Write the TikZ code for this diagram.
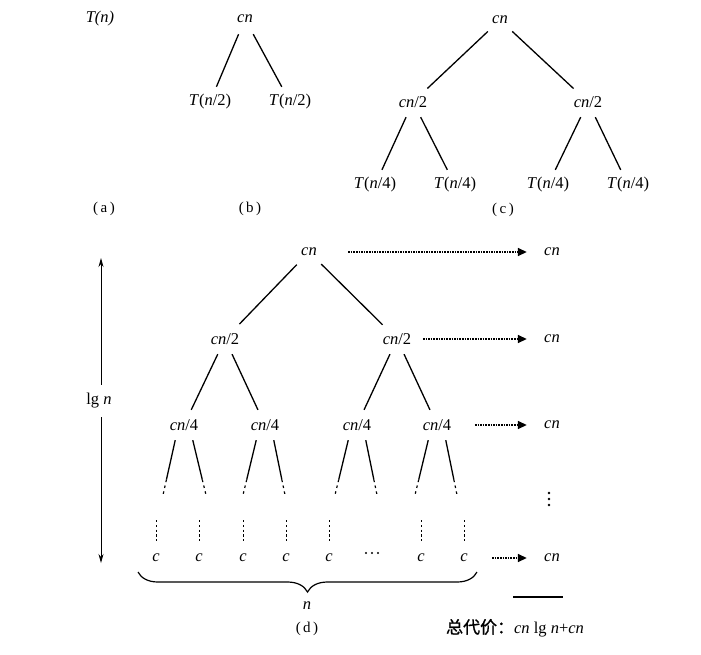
\documentclass[tikz,border=0pt]{standalone}
\usepackage{fontspec}
\setmainfont{Liberation Serif}
\newfontfamily\cjkfont[FakeBold=1]{Noto Sans CJK SC}
\usetikzlibrary{arrows.meta,calc,decorations.pathreplacing}
\newcommand\fsz{\fontsize{16.5}{18}\selectfont}
\newcommand\capsz{\fontsize{15}{17}\selectfont}
\begin{document}
\begin{tikzpicture}[x=1pt,y=-1pt,
  lab/.style={font=\fsz, inner sep=0pt, minimum height=30pt, minimum width=24pt},
  tline/.style={line width=1.3pt},
  stubdash/.style={line width=1.2pt, dash pattern=on 2.5pt off 3.5pt},
  leafdash/.style={line width=1pt, dash pattern=on 2.2pt off 2.6pt},
  cost/.style={line width=1.6pt, densely dotted, -{Triangle[length=9pt,width=8pt]}},
  lgarrow/.style={line width=0.9pt, -{Stealth[length=9pt,width=5pt]}},
  capt/.style={font=\capsz, inner sep=1pt}
]
\useasboundingbox (0,0) rectangle (701,654);

% ---------- (a)
\node[lab] (Tn) at (100,19) {\textit{T(n)}};
\node[capt] (la) at (104,209) {(\hspace{2.5pt}a\hspace{2.5pt})};

% ---------- (b)
\node[lab] (bcn) at (245,19) {\textit{cn}};
\node[lab] (bl) at (210,102) {\textit{T}(\textit{n}/2)};
\node[lab] (br) at (290,102) {\textit{T}(\textit{n}/2)};
\draw[tline] (bcn) -- (bl);
\draw[tline] (bcn) -- (br);
\node[capt] (lb) at (250,209) {(\hspace{2.5pt}b\hspace{2.5pt})};

% ---------- (c)
\node[lab] (ccn) at (500,20) {\textit{cn}};
\node[lab] (cl) at (413,102) {\textit{cn}/2};
\node[lab] (cr) at (588,102) {\textit{cn}/2};
\node[lab] (c1) at (375,185) {\textit{T}(\textit{n}/4)};
\node[lab] (c2) at (455,185) {\textit{T}(\textit{n}/4)};
\node[lab] (c3) at (548,185) {\textit{T}(\textit{n}/4)};
\node[lab] (c4) at (628,185) {\textit{T}(\textit{n}/4)};
\draw[tline] (ccn) -- (cl);
\draw[tline] (ccn) -- (cr);
\draw[tline] (cl) -- (c1);
\draw[tline] (cl) -- (c2);
\draw[tline] (cr) -- (c3);
\draw[tline] (cr) -- (c4);
\node[capt] (lc) at (503,210) {(\hspace{2.5pt}c\hspace{2.5pt})};

% ---------- (d)
\node[lab] (dcn) at (309,252) {\textit{cn}};
\node[lab] (d2l) at (225,339) {\textit{cn}/2};
\node[lab] (d2r) at (397,339) {\textit{cn}/2};
\node[lab] (d4a) at (184,425) {\textit{cn}/4};
\node[lab] (d4b) at (265,425) {\textit{cn}/4};
\node[lab] (d4c) at (357,425) {\textit{cn}/4};
\node[lab] (d4d) at (437,425) {\textit{cn}/4};
\draw[tline] (dcn) -- (d2l);
\draw[tline] (dcn) -- (d2r);
\draw[tline] (d2l) -- (d4a);
\draw[tline] (d2l) -- (d4b);
\draw[tline] (d2r) -- (d4c);
\draw[tline] (d2r) -- (d4d);

% stub ends
\coordinate (e1) at (163,495);
\coordinate (e2) at (206,495);
\coordinate (e3) at (243,495);
\coordinate (e4) at (285,495);
\coordinate (e5) at (335,495);
\coordinate (e6) at (377,495);
\coordinate (e7) at (415,495);
\coordinate (e8) at (457,495);
\foreach \n/\a/\e in {d4a/-120/e1, d4a/-60/e2, d4b/-120/e3, d4b/-60/e4,
                      d4c/-120/e5, d4c/-60/e6, d4d/-120/e7, d4d/-60/e8} {
  \draw[tline] (\n.\a) -- ($(\n.\a)!0.72!(\e)$);
  \draw[stubdash] ($(\n.\a)!0.72!(\e)$) -- (\e);
}

% leaves
\node[lab] (l1) at (156,558) {\textit{c}};
\node[lab] (l2) at (199,558) {\textit{c}};
\node[lab] (l3) at (243,558) {\textit{c}};
\node[lab] (l4) at (286,558) {\textit{c}};
\node[lab] (l5) at (329,558) {\textit{c}};
\node[lab] (l7) at (421,558) {\textit{c}};
\node[lab] (l8) at (464,558) {\textit{c}};
\foreach \x in {366,372,378} \fill (\x,553) circle (1.2pt);
\foreach \l/\x in {l1/156, l2/199, l3/243, l4/286, l5/329, l7/421, l8/464} {
  \coordinate (t\l) at (\x,520);
  \draw[leafdash] (t\l) -- (\l);
}

% brace
\coordinate (bra) at (138,572);
\coordinate (brb) at (477,572);
\draw[line width=1.2pt, decorate, decoration={brace, mirror, amplitude=20pt}] (bra) -- (brb);
\node[lab] (nlab) at (307,606) {\textit{n}};
\node[capt] (ld) at (307,629) {(\hspace{2.5pt}d\hspace{2.5pt})};

% height arrow
\coordinate (lgtop) at (101,258);
\coordinate (lgbot) at (101,563);
\node[lab, minimum height=32pt] (lgn) at (99,401) {lg \textit{n}};
\draw[lgarrow] (lgtop |- lgn.north) -- (lgtop);
\draw[lgarrow] (lgtop |- lgn.south) -- (lgbot);

% right column
\node[lab] (rcn1) at (552,252) {\textit{cn}};
\node[lab] (rcn2) at (552,339) {\textit{cn}};
\node[lab] (rcn3) at (552,425) {\textit{cn}};
\node[lab] (rcn4) at (552,558) {\textit{cn}};
\draw[cost, shorten <=27pt, shorten >=13pt] (dcn) -- (rcn1);
\draw[cost, shorten <=11.5pt, shorten >=13pt] (d2r) -- (rcn2);
\draw[cost, shorten <=23.5pt, shorten >=13pt] (d4d) -- (rcn3);
\draw[cost, shorten <=16pt, shorten >=13pt] (l8) -- (rcn4);
\foreach \y in {493,499,505} \fill (549,\y) circle (1.4pt);

% total
\coordinate (sl1) at (513,597);
\coordinate (sl2) at (563,597);
\draw[line width=1.4pt] (sl1) -- (sl2);
\node[font=\fsz, inner sep=0pt] (total) at (515,628)
  {{\cjkfont\fontsize{17}{19}\selectfont 总代价：}\textit{cn} lg \textit{n}+\textit{cn}};
\end{tikzpicture}
\end{document}
